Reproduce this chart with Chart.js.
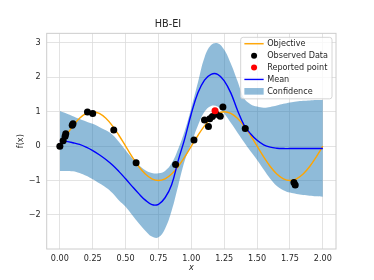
<!DOCTYPE html>
<html>
<head>
<meta charset="utf-8">
<script src="https://cdn.jsdelivr.net/npm/chart.js@4.4.1/dist/chart.umd.min.js"></script>
<style>
  html, body { margin: 0; padding: 0; background: #fff; }
</style>
</head>
<body>
<canvas id="chart" width="374" height="280"></canvas>
<script>
// sample grid
const xs = [0.00, 0.05, 0.10, 0.15, 0.20, 0.25, 0.30, 0.35, 0.40, 0.45,
            0.50, 0.55, 0.60, 0.65, 0.70, 0.75, 0.80, 0.85, 0.90, 0.95,
            1.00, 1.05, 1.10, 1.15, 1.20, 1.25, 1.30, 1.35, 1.40, 1.45,
            1.50, 1.55, 1.60, 1.65, 1.70, 1.75, 1.80, 1.85, 1.90, 1.95, 2.00];

const objective = [0.00, 0.31, 0.59, 0.81, 0.95, 1.00, 0.95, 0.81, 0.59, 0.31,
                   0.00, -0.31, -0.59, -0.81, -0.95, -1.00, -0.95, -0.81, -0.59, -0.31,
                   0.00, 0.31, 0.59, 0.81, 0.95, 1.00, 0.95, 0.81, 0.59, 0.31,
                   0.00, -0.31, -0.59, -0.81, -0.95, -1.00, -0.95, -0.81, -0.59, -0.31, 0.00];

const mean = [0.16, 0.14, 0.10, 0.05, -0.03, -0.13, -0.25, -0.39, -0.55, -0.74,
              -0.95, -1.17, -1.38, -1.57, -1.70, -1.69, -1.50, -1.12, -0.42, 0.22,
              0.95, 1.55, 1.92, 2.09, 2.09, 1.90, 1.55, 1.05, 0.62, 0.36,
              0.17, 0.04, -0.03, -0.06, -0.07, -0.07, -0.07, -0.07, -0.07, -0.07, -0.07];

const upper = [1.02, 0.95, 0.87, 0.79, 0.72, 0.65, 0.56, 0.46, 0.33, 0.12,
               -0.12, -0.35, -0.55, -0.70, -0.78, -0.79, -0.72, -0.50, -0.08, 0.45,
               1.12, 1.85, 2.58, 2.94, 2.99, 2.80, 2.40, 1.90, 1.40, 1.22,
               1.15, 1.12, 1.14, 1.18, 1.23, 1.27, 1.30, 1.32, 1.33, 1.34, 1.34];

const lower = [-0.72, -0.72, -0.73, -0.78, -0.86, -0.96, -1.08, -1.20, -1.36, -1.58,
               -1.76, -2.00, -2.24, -2.46, -2.63, -2.65, -2.40, -1.88, -1.15, -0.42,
               0.08, 0.60, 1.00, 1.17, 1.15, 0.95, 0.68, 0.40, 0.12, -0.15,
               -0.40, -0.68, -0.95, -1.16, -1.28, -1.35, -1.39, -1.42, -1.44, -1.46, -1.47];

const obsX = [0.00, 0.025, 0.04, 0.045, 0.094, 0.10, 0.21, 0.25, 0.41, 0.58, 0.88,
              1.02, 1.10, 1.13, 1.14, 1.16, 1.19, 1.22, 1.24, 1.41, 1.78, 1.79];
const obsY = [0.00, 0.16, 0.29, 0.36, 0.61, 0.65, 0.99, 0.95, 0.47, -0.48, -0.53,
              0.18, 0.76, 0.57, 0.80, 0.86, 0.93, 0.87, 1.14, 0.51, -1.06, -1.13];

const reportedX = [1.18];
const reportedY = [1.03];

const xTicks = [0, 0.25, 0.5, 0.75, 1, 1.25, 1.5, 1.75, 2];
const yTicks = [-2, -1, 0, 1, 2, 3];

const pts = (a, b) => a.map((v, i) => ({ x: v, y: b[i] }));

const textColor = '#262626';
const gridColor = '#dcdcdc';
const bandColor = 'rgba(31, 119, 180, 0.5)';

Chart.defaults.font.family = 'DejaVu Sans';
Chart.defaults.color = textColor;

// spines all round, like matplotlib
const frame = {
  id: 'frame',
  beforeDatasetsDraw(chart) {
    const { ctx, chartArea: a } = chart;
    ctx.save();
    ctx.strokeStyle = '#cccccc';
    ctx.lineWidth = 1;
    ctx.strokeRect(a.left, a.top, a.right - a.left, a.bottom - a.top);
    ctx.restore();
  }
};

// legend box inside the axes (upper right)
const legendItems = [
  { text: 'Objective', kind: 'line', color: 'orange' },
  { text: 'Observed Data', kind: 'dot', color: 'black' },
  { text: 'Reported point', kind: 'dot', color: 'red' },
  { text: 'Mean', kind: 'line', color: 'blue' },
  { text: 'Confidence', kind: 'patch', color: bandColor }
];
const legendBox = {
  id: 'legendBox',
  afterDraw(chart) {
    const { ctx, chartArea: a } = chart;
    ctx.save();
    ctx.font = '8.1px "DejaVu Sans"';
    let maxW = 0;
    legendItems.forEach(it => { maxW = Math.max(maxW, ctx.measureText(it.text).width); });
    const w = 26.5 + maxW + 4;
    const h = 61.5;
    const right = a.right - 4;
    const left = right - w;
    const top = a.top + 4;

    ctx.beginPath();
    ctx.roundRect(left, top, w, h, 2.5);
    ctx.fillStyle = 'rgba(255,255,255,0.8)';
    ctx.fill();
    ctx.strokeStyle = '#cccccc';
    ctx.lineWidth = 0.8;
    ctx.stroke();

    legendItems.forEach((it, i) => {
      const y = top + 6.4 + i * 11.9;
      if (it.kind === 'line') {
        ctx.beginPath();
        ctx.moveTo(left + 3.7, y);
        ctx.lineTo(left + 23, y);
        ctx.strokeStyle = it.color;
        ctx.lineWidth = 1.4;
        ctx.stroke();
      } else if (it.kind === 'dot') {
        ctx.beginPath();
        ctx.arc(left + 13.4, y, 3, 0, Math.PI * 2);
        ctx.fillStyle = it.color;
        ctx.fill();
      } else {
        ctx.fillStyle = it.color;
        ctx.fillRect(left + 3.7, y - 3.3, 19.3, 6.6);
      }
      ctx.fillStyle = textColor;
      ctx.textBaseline = 'middle';
      ctx.textAlign = 'left';
      ctx.fillText(it.text, left + 26.5, y + 0.5);
    });
    ctx.restore();
  }
};

new Chart(document.getElementById('chart'), {
  type: 'line',
  data: {
    datasets: [
      {
        label: 'Objective',
        data: pts(xs, objective),
        borderColor: 'orange',
        borderWidth: 1.4,
        pointRadius: 0,
        tension: 0.4,
        fill: false,
        order: 3
      },
      {
        label: 'Observed Data',
        data: pts(obsX, obsY),
        showLine: false,
        pointRadius: 3.5,
        pointBackgroundColor: 'black',
        pointBorderWidth: 0,
        order: 1
      },
      {
        label: 'Reported point',
        data: pts(reportedX, reportedY),
        showLine: false,
        pointRadius: 3.5,
        pointBackgroundColor: 'red',
        pointBorderWidth: 0,
        order: 0
      },
      {
        label: 'Mean',
        data: pts(xs, mean),
        borderColor: 'blue',
        borderWidth: 1.4,
        pointRadius: 0,
        tension: 0.4,
        fill: false,
        order: 2
      },
      {
        label: 'Confidence',
        data: pts(xs, upper),
        borderWidth: 0,
        borderColor: 'rgba(0,0,0,0)',
        backgroundColor: bandColor,
        pointRadius: 0,
        tension: 0.4,
        fill: '+1',
        order: 5
      },
      {
        label: 'lower',
        data: pts(xs, lower),
        borderWidth: 0,
        borderColor: 'rgba(0,0,0,0)',
        pointRadius: 0,
        tension: 0.4,
        fill: false,
        order: 6
      }
    ]
  },
  options: {
    responsive: false,
    animation: false,
    layout: { padding: { left: 0, right: 38, top: 0, bottom: 0 } },
    plugins: {
      legend: { display: false },
      tooltip: { enabled: false },
      title: {
        display: true,
        text: 'HB-EI',
        color: textColor,
        font: { size: 9.7, weight: 'normal' },
        padding: { top: 18.7, bottom: 3 }
      }
    },
    scales: {
      x: {
        type: 'linear',
        min: -0.1,
        max: 2.1,
        afterFit: s => { s.height = 31; },
        afterBuildTicks: s => { s.ticks = xTicks.map(v => ({ value: v })); },
        grid: { color: gridColor, lineWidth: 0.8, drawTicks: false },
        border: { display: false },
        ticks: {
          padding: 5,
          font: { size: 8.1 },
          color: textColor,
          callback: v => v.toFixed(2)
        },
        title: {
          display: true,
          text: 'x',
          color: textColor,
          font: { size: 8.1, style: 'italic' },
          padding: { top: 0, bottom: 7 }
        }
      },
      y: {
        min: -2.99,
        max: 3.28,
        afterFit: s => { s.width = 46.7; },
        afterBuildTicks: s => { s.ticks = yTicks.map(v => ({ value: v })); },
        grid: { color: gridColor, lineWidth: 0.8, drawTicks: false },
        border: { display: false },
        ticks: {
          padding: 6,
          font: { size: 8.1 },
          color: textColor,
          callback: v => (v < 0 ? '\u2212' + Math.abs(v) : String(v))
        },
        title: {
          display: true,
          text: 'f(x)',
          color: textColor,
          font: { size: 8.1 },
          padding: { top: 15.8, bottom: 0 }
        }
      }
    }
  },
  plugins: [frame, legendBox]
});
</script>
</body>
</html>
